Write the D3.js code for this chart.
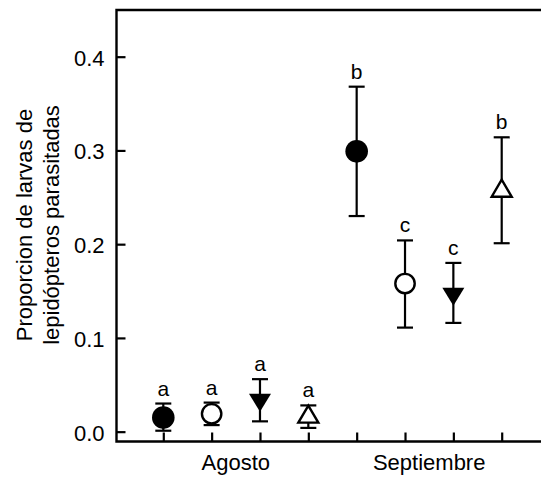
<!DOCTYPE html>
<html lang="es">
	<head>
		<meta charset="utf-8">
		<title>Proporcion de larvas parasitadas</title>
		<script type="text/javascript" src="https://cdn.jsdelivr.net/npm/d3@7"></script>
		<style type="text/css">
			body { margin: 0; background: #fff; }
			text { font-family: Arial, "Liberation Sans", sans-serif; fill: #000; }
		</style>
	</head>
	<body>
		<script type="text/javascript">

			//Width and height
			var w = 541;
			var h = 489;

			//Data: 4 treatments per month
			var months = ["Agosto", "Septiembre"];
			var markers = ["circleFilled", "circleOpen", "triDownFilled", "triUpOpen",
			               "circleFilled", "circleOpen", "triDownFilled", "triUpOpen"];
			var means = [0.015, 0.019, 0.034, 0.016, 0.299, 0.158, 0.147, 0.257];
			var lower = [0.001, 0.007, 0.011, 0.004, 0.230, 0.111, 0.116, 0.201];
			var upper = [0.030, 0.031, 0.056, 0.028, 0.368, 0.204, 0.180, 0.314];
			var letters = ["a", "a", "a", "a", "b", "c", "c", "b"];
			var yTicks = [0.0, 0.1, 0.2, 0.3, 0.4];

			var dataset = means.map(function(m, i) {
				return { i: i, mean: m, lo: lower[i], hi: upper[i], marker: markers[i], letter: letters[i] };
			});

			//Plot frame (note: "top" is a reserved window global, so use other names)
			var frameLeft = 116.5, frameTop = 10, frameBottom = 441.5, frameRight = w;
			var fontSize = "22px";

			//Scales
			var xScale = d3.scaleLinear()
						.domain([0, 7])
						.range([163.3, 501.7]);

			var yScale = d3.scaleLinear()
						.domain([-0.0105, 0.4498])
						.range([frameBottom, frameTop]);

			var svg = d3.select("body")
						.append("svg")
						.attr("width", w)
						.attr("height", h);

			//Y axis (ticks point inward)
			var yAxis = d3.axisLeft(yScale)
						.tickValues(yTicks)
						.tickFormat(d3.format(".1f"))
						.tickSizeInner(-9)
						.tickSizeOuter(0)
						.tickPadding(12);

			var gy = svg.append("g")
						.attr("transform", "translate(" + frameLeft + ",0)")
						.call(yAxis);
			gy.select(".domain").remove();
			gy.selectAll(".tick line").attr("stroke", "#000").attr("stroke-width", 2.2);
			gy.selectAll(".tick text")
				.attr("font-size", fontSize)
				.attr("dy", "0.38em")
				.style("font-family", "Arial, 'Liberation Sans', sans-serif");

			//X axis (ticks point up, no labels)
			var xAxis = d3.axisBottom(xScale)
						.tickValues(d3.range(8))
						.tickFormat("")
						.tickSizeInner(-9)
						.tickSizeOuter(0);

			var gx = svg.append("g")
						.attr("transform", "translate(0," + frameBottom + ")")
						.call(xAxis);
			gx.select(".domain").remove();
			gx.selectAll(".tick line").attr("stroke", "#000").attr("stroke-width", 2.2);

			//Frame lines: left, bottom, top
			svg.append("path")
				.attr("d", "M" + frameRight + "," + frameTop + "H" + frameLeft + "V" + frameBottom + "H" + frameRight)
				.attr("fill", "none")
				.attr("stroke", "#000")
				.attr("stroke-width", 2.4);

			//Month labels
			svg.selectAll("text.month")
				.data(months)
				.enter()
				.append("text")
				.attr("class", "month")
				.attr("x", function(d, i) { return (xScale(i * 4 + 1) + xScale(i * 4 + 2)) / 2; })
				.attr("y", 469.5)
				.attr("text-anchor", "middle")
				.attr("font-size", fontSize)
				.text(function(d) { return d; });

			//Y title, two lines
			var yTitle = ["Proporcion de larvas de", "lepidópteros parasitadas"];
			svg.selectAll("text.ytitle")
				.data(yTitle)
				.enter()
				.append("text")
				.attr("class", "ytitle")
				.attr("transform", function(d, i) {
					return "translate(" + (31.5 + i * 27) + ",225) rotate(-90)";
				})
				.attr("text-anchor", "middle")
				.attr("font-size", fontSize)
				.text(function(d) { return d; });

			//Error bars
			var cap = 8;
			var bars = svg.selectAll("g.err")
						.data(dataset)
						.enter()
						.append("g")
						.attr("class", "err")
						.attr("stroke", "#000")
						.attr("stroke-width", 2.2);

			bars.append("line")
				.attr("x1", function(d) { return xScale(d.i); })
				.attr("x2", function(d) { return xScale(d.i); })
				.attr("y1", function(d) { return yScale(d.lo); })
				.attr("y2", function(d) { return yScale(d.hi); });

			bars.append("line")
				.attr("x1", function(d) { return xScale(d.i) - cap; })
				.attr("x2", function(d) { return xScale(d.i) + cap; })
				.attr("y1", function(d) { return yScale(d.hi); })
				.attr("y2", function(d) { return yScale(d.hi); });

			bars.append("line")
				.attr("x1", function(d) { return xScale(d.i) - cap; })
				.attr("x2", function(d) { return xScale(d.i) + cap; })
				.attr("y1", function(d) { return yScale(d.lo); })
				.attr("y2", function(d) { return yScale(d.lo); });

			//Markers
			var symbolPath = function(m) {
				if (m == "triDownFilled")
					return "M-11,-6L11,-6L0,12Z";
				if (m == "triUpOpen")
					return "M-10,6L10,6L0,-11Z";
				return null;
			};

			svg.selectAll("g.marker")
				.data(dataset)
				.enter()
				.append("g")
				.attr("class", "marker")
				.each(function(d) {
					var g = d3.select(this);
					var cx = xScale(d.i), cy = yScale(d.mean);
					if (d.marker == "circleFilled") {
						g.append("circle").attr("cx", cx).attr("cy", cy).attr("r", 11.3)
							.attr("fill", "#000");
					} else if (d.marker == "circleOpen") {
						g.append("circle").attr("cx", cx).attr("cy", cy).attr("r", 9.7)
							.attr("fill", "#fff").attr("stroke", "#000").attr("stroke-width", 2.4);
					} else if (d.marker == "triDownFilled") {
						g.append("path").attr("d", symbolPath(d.marker))
							.attr("transform", "translate(" + cx + "," + cy + ")")
							.attr("fill", "#000");
					} else {
						g.append("path").attr("d", symbolPath(d.marker))
							.attr("transform", "translate(" + cx + "," + cy + ")")
							.attr("fill", "#fff").attr("stroke", "#000").attr("stroke-width", 2.4);
					}
				});

			//Significance letters
			svg.selectAll("text.letter")
				.data(dataset)
				.enter()
				.append("text")
				.attr("class", "letter")
				.attr("x", function(d) { return xScale(d.i); })
				.attr("y", function(d) { return yScale(d.hi) - 8; })
				.attr("text-anchor", "middle")
				.attr("font-size", "21px")
				.text(function(d) { return d.letter; });

		</script>
	</body>
</html>
